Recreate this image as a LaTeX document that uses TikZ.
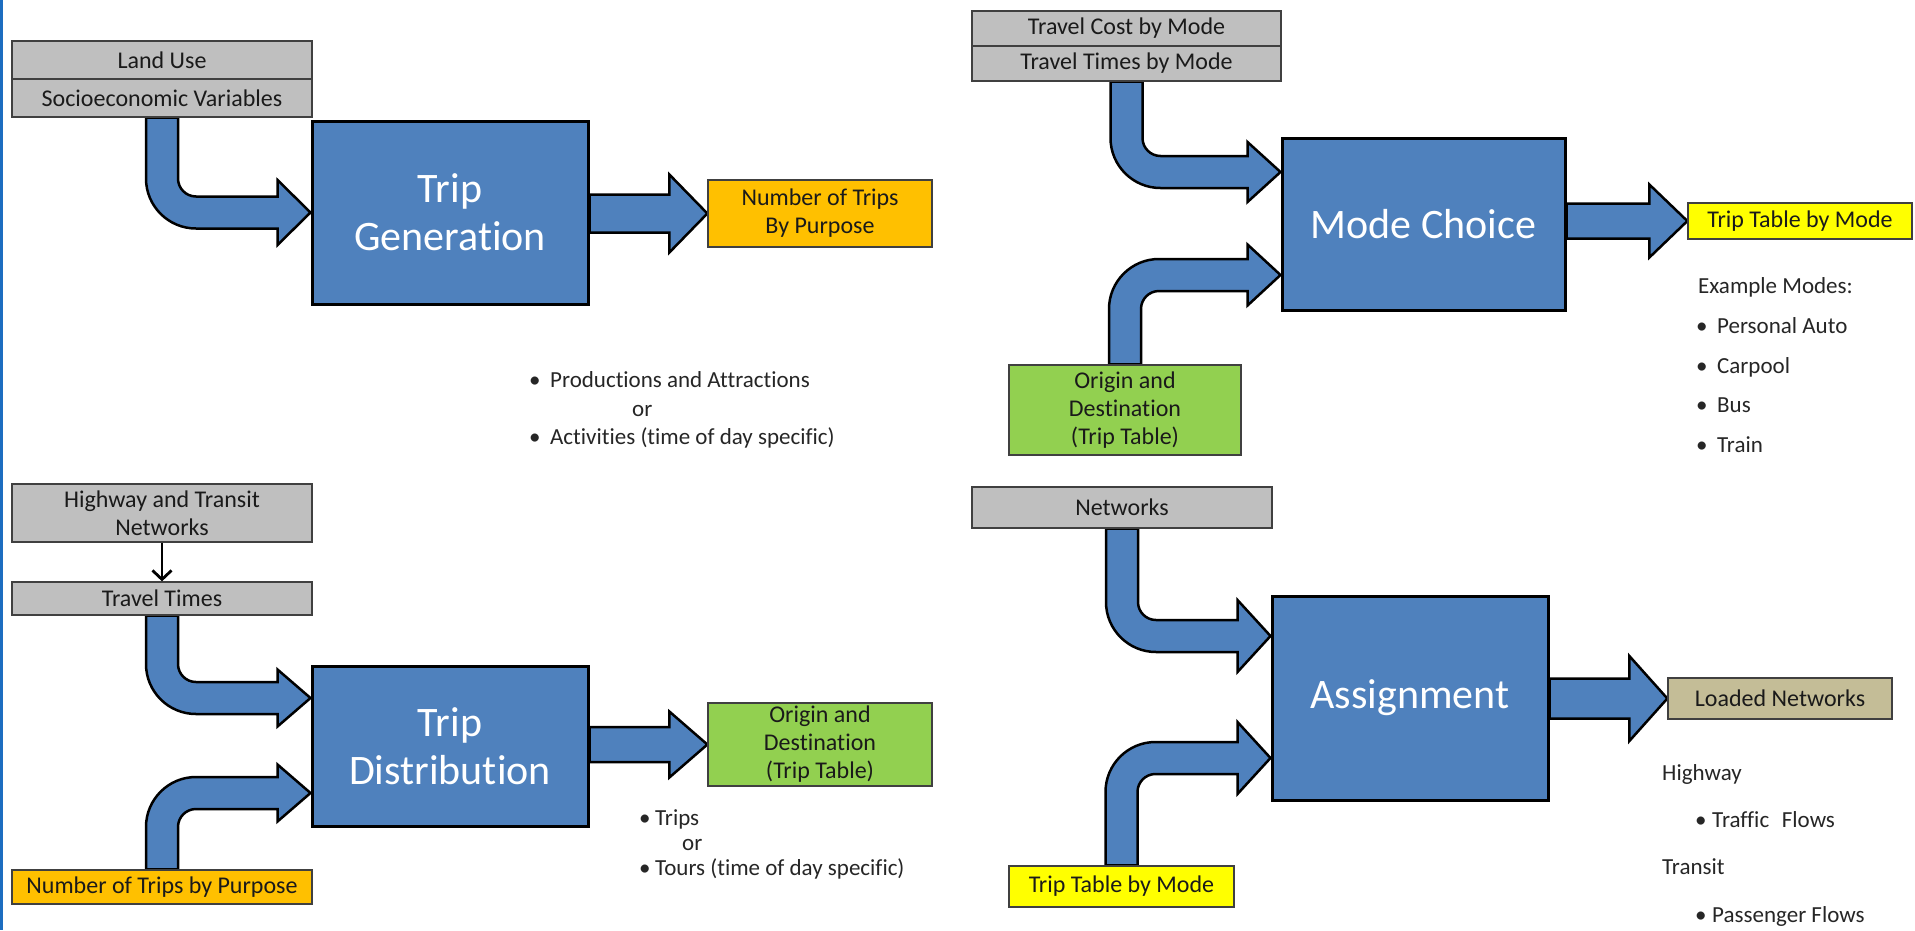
\documentclass[tikz,border=0pt]{standalone}
\usepackage{fontspec}
\setmainfont{Carlito}[Ligatures={NoCommon}]
\usetikzlibrary{arrows.meta,calc,backgrounds}
\definecolor{boxblue}{HTML}{4F81BD}
\definecolor{boxgray}{HTML}{BFBFBF}
\definecolor{boxorange}{HTML}{FFC000}
\definecolor{boxgreen}{HTML}{92D050}
\definecolor{boxyellow}{HTML}{FFFF00}
\definecolor{boxtan}{HTML}{C4BD97}
\definecolor{edgedark}{HTML}{404040}
\definecolor{textdark}{HTML}{1A1A1A}
\definecolor{notedark}{HTML}{262626}
\definecolor{stripeblue}{HTML}{1C6DC0}
\tikzset{
  lbl/.style={inner sep=0pt, font=\fontsize{24}{28}\selectfont, text=textdark, align=center, draw=edgedark, line width=1.3pt},
  gbox/.style={lbl, fill=boxgray},
  obox/.style={lbl, fill=boxorange},
  grbox/.style={lbl, fill=boxgreen},
  ybox/.style={lbl, fill=boxyellow},
  tbox/.style={lbl, fill=boxtan},
  proc/.style={draw=black, line width=3pt, fill=boxblue, text=white, font=\fontsize{42}{48}\selectfont, align=center, inner sep=0pt},
  barrow/.style={draw=black, line width=2.5pt, fill=boxblue, line join=miter},
  note/.style={anchor=west, inner sep=0pt, font=\fontsize{23}{28}\selectfont, text=notedark, text height=14pt, text depth=0pt},
  thinarrow/.style={draw=black, line width=2.8pt, -{Straight Barb[length=9pt,width=19pt]}},
}
% bent arrow: source above, goes down then right to tip
\newcommand{\bentdown}[3]{%
  \path[barrow] let \p1=(#1), \p2=(#2) in
    (\x1-16pt,\y1) -- (\x1-16pt,\y2+34pt) arc[start angle=180,end angle=270,radius=50pt]
    -- (\x2-33pt,\y2-16pt) -- (\x2-33pt,\y2-#3) -- (\x2,\y2) -- (\x2-33pt,\y2+#3)
    -- (\x2-33pt,\y2+16pt) -- (\x1+34pt,\y2+16pt) arc[start angle=270,end angle=180,radius=18pt]
    -- (\x1+16pt,\y1) -- cycle;}
% bent arrow: source below, goes up then right to tip
\newcommand{\bentup}[3]{%
  \path[barrow] let \p1=(#1), \p2=(#2) in
    (\x1-16pt,\y1) -- (\x1-16pt,\y2-34pt) arc[start angle=180,end angle=90,radius=50pt]
    -- (\x2-33pt,\y2+16pt) -- (\x2-33pt,\y2+#3) -- (\x2,\y2) -- (\x2-33pt,\y2-#3)
    -- (\x2-33pt,\y2-16pt) -- (\x1+34pt,\y2-16pt) arc[start angle=90,end angle=180,radius=18pt]
    -- (\x1+16pt,\y1) -- cycle;}
% straight block arrow from east side of #1 to #2
\newcommand{\flowarrow}[4]{%
  \path[barrow] let \p1=(#1), \p2=(#2) in
    (\x1,\y2+#3) -- (\x2-38pt,\y2+#3) -- (\x2-38pt,\y2+#4) -- (\x2,\y2)
    -- (\x2-38pt,\y2-#4) -- (\x2-38pt,\y2-#3) -- (\x1,\y2-#3) -- cycle;}
\begin{document}
\begin{tikzpicture}[x=1pt,y=-1pt]
\begin{pgfonlayer}{background}
\fill[white] (0,0) rectangle (1915,930);
\end{pgfonlayer}
\useasboundingbox (0,0) rectangle (1915,930);
\fill[stripeblue] (0,0) rectangle (3,930);

% ---------- Trip Generation ----------
\node[gbox, minimum width=300pt, minimum height=38pt] (lu) at (162,60) {Land Use};
\node[gbox, minimum width=300pt, minimum height=38pt] (se) at (162,98) {Socioeconomic Variables};
\node[proc, minimum width=276pt, minimum height=183pt] (tg) at (450,212.5) {Trip\\Generation};
\node[obox, minimum width=224pt, minimum height=67pt] (ntp) at (820,213.5) {Number of Trips\\By Purpose};
\node[note] (pa) at (529,380) {\makebox[21pt][l]{•}Productions and Attractions};
\node[note] (or1) at (632,409) {or};
\node[note] (ac) at (529,437) {\makebox[21pt][l]{•}Activities (time of day specific)};

% ---------- Mode Choice ----------
\node[gbox, minimum width=309pt, minimum height=35pt] (tc) at (1126.5,28.5) {Travel Cost by Mode};
\node[gbox, minimum width=309pt, minimum height=35pt] (tt) at (1126.5,63.5) {Travel Times by Mode};
\node[proc, minimum width=283pt, minimum height=172pt] (mc) at (1423.5,224) {Mode Choice};
\node[grbox, minimum width=232pt, minimum height=90pt] (odm) at (1125,410) {Origin and\\Destination\\(Trip Table)};
\node[ybox, minimum width=224pt, minimum height=36pt] (ttm) at (1800,221) {Trip Table by Mode};
\node[note] (em) at (1698,286) {Example Modes:};
\node[note] (m1) at (1696,326) {\makebox[21pt][l]{•}Personal Auto};
\node[note] (m2) at (1696,366) {\makebox[21pt][l]{•}Carpool};
\node[note] (m3) at (1696,405) {\makebox[21pt][l]{•}Bus};
\node[note] (m4) at (1696,445) {\makebox[21pt][l]{•}Train};

% ---------- Trip Distribution ----------
\node[gbox, minimum width=300pt, minimum height=58pt] (htn) at (162,513) {Highway and Transit\\Networks};
\node[gbox, minimum width=300pt, minimum height=33pt] (tvt) at (162,598.5) {Travel Times};
\node[proc, minimum width=276pt, minimum height=160pt] (td) at (450,746) {Trip\\Distribution};
\node[obox, minimum width=300pt, minimum height=34pt] (ntpb) at (162,887) {Number of Trips by Purpose};
\node[grbox, minimum width=224pt, minimum height=83pt] (odd) at (820,744.5) {Origin and\\Destination\\(Trip Table)};
\node[note] (tr) at (639,818) {\makebox[16pt][l]{•}Trips};
\node[note] (or2) at (682,843) {or};
\node[note] (to) at (639,868) {\makebox[16pt][l]{•}Tours (time of day specific)};

% ---------- Assignment ----------
\node[gbox, minimum width=300pt, minimum height=41pt] (nw) at (1122,507.5) {Networks};
\node[proc, minimum width=276pt, minimum height=204pt] (asg) at (1410,698) {Assignment};
\node[ybox, minimum width=225pt, minimum height=41pt] (ttmb) at (1121.5,886.5) {Trip Table by Mode};
\node[tbox, minimum width=224pt, minimum height=41pt] (ln) at (1780,698.5) {Loaded Networks};
\node[note] (hw) at (1662,773) {Highway};
\node[note] (tf) at (1695,820) {\makebox[17pt][l]{•}Traffic\hspace{0.55em}Flows};
\node[note] (ts) at (1662,867) {Transit};
\node[note] (pf) at (1695,915) {\makebox[17pt][l]{•}Passenger Flows};

% ---------- connectors ----------
\draw[thinarrow] (htn.south) -- (tvt.north);
\begin{pgfonlayer}{background}
  \bentdown{se.south}{tg.west}{32.5pt}
  \flowarrow{tg.east}{ntp.west}{19pt}{39pt}

  \bentdown{tt.south}{[yshift=52pt]mc.west}{30pt}
  \bentup{odm.north}{[yshift=-51pt]mc.west}{30.5pt}
  \flowarrow{mc.east}{ttm.west}{17.5pt}{36.5pt}

  \bentdown{tvt.south}{[yshift=48pt]td.west}{28.5pt}
  \bentup{ntpb.north}{[yshift=-47pt]td.west}{28.5pt}
  \flowarrow{td.east}{odd.west}{17.5pt}{33pt}

  \bentdown{nw.south}{[yshift=62pt]asg.west}{36pt}
  \bentup{ttmb.north}{[yshift=-60pt]asg.west}{36pt}
  \flowarrow{asg.east}{ln.west}{20pt}{42.5pt}
\end{pgfonlayer}
\end{tikzpicture}
\end{document}
